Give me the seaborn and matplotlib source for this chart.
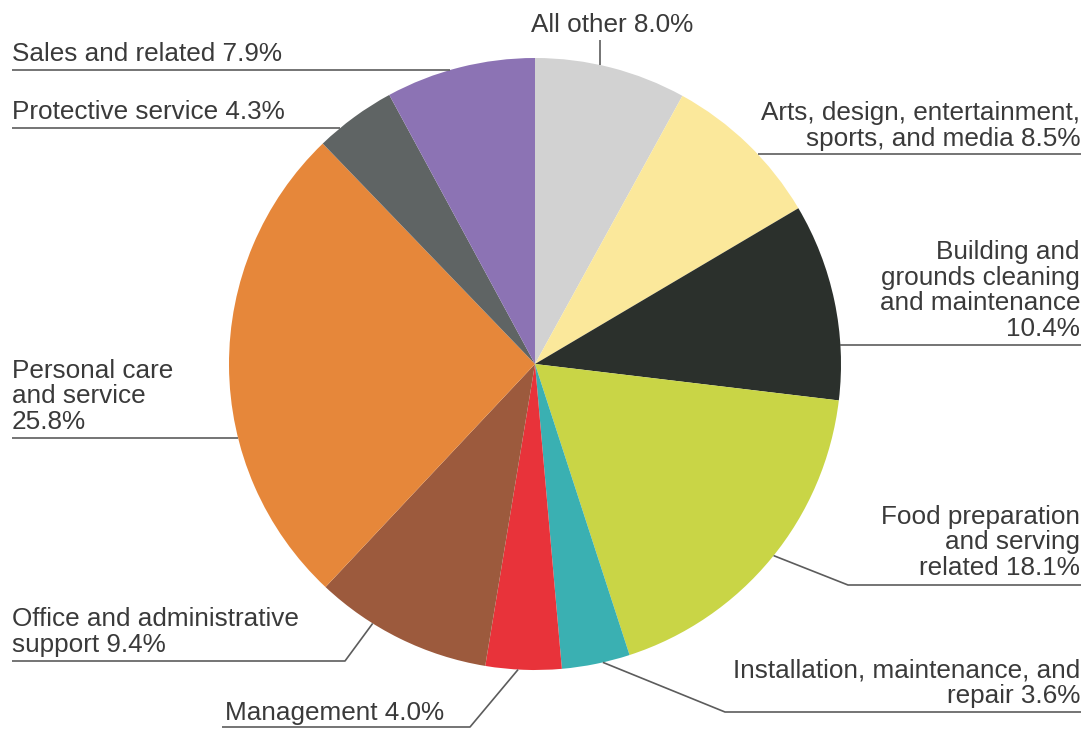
import numpy as np
import matplotlib.pyplot as plt
import seaborn as sns

# occupational shares, clockwise from 12 o'clock
categories = [
    "All other",
    "Arts, design, entertainment,\nsports, and media",
    "Building and\ngrounds cleaning\nand maintenance",
    "Food preparation\nand serving\nrelated",
    "Installation, maintenance, and\nrepair",
    "Management",
    "Office and administrative\nsupport",
    "Personal care\nand service",
    "Protective service",
    "Sales and related",
]
shares = [8.0, 8.5, 10.4, 18.1, 3.6, 4.0, 9.4, 25.8, 4.3, 7.9]
pct_sep = [" ", " ", "\n", " ", " ", " ", " ", "\n", " ", " "]
colors = ["#d2d2d2", "#fbe89b", "#2b302c", "#c9d546", "#3ab0b2",
          "#e8333a", "#9c5a3d", "#e6873a", "#5f6464", "#8c73b4"]

W, H = 1086, 729
CX, CY, R = 535, 364, 306


def Y(y):
    # pixel row (from top) -> data y
    return H - y


sns.set_theme(style="white")
plt.rcParams["font.family"] = ["Liberation Sans", "DejaVu Sans"]

fig = plt.figure(figsize=(W / 100, H / 100), dpi=100)
ax = fig.add_axes([0, 0, 1, 1])
wedges, _ = ax.pie(shares, colors=sns.color_palette(colors), startangle=90,
                   counterclock=False, center=(CX, Y(CY)), radius=R,
                   wedgeprops=dict(linewidth=0))
ax.set_xlim(0, W)
ax.set_ylim(0, H)
ax.set_aspect("equal")
ax.axis("off")

txt_kw = dict(fontsize=18.8, color="#3a3a3a", linespacing=1.08)
line_kw = dict(color="#5c5c5c", lw=1.2, solid_capstyle="butt")


def edge_x(y, side):
    dy = CY - y
    return CX + side * np.sqrt(R ** 2 - dy ** 2)


def wedge_point(w, f):
    a = np.deg2rad(w.theta2 - f * (w.theta2 - w.theta1))
    return CX + R * np.cos(a), CY - R * np.sin(a)


labels = [f"{c}{s}{v:.1f}%" for c, s, v in zip(categories, pct_sep, shares)]

# leader layout: (kind, text x, ha, baseline, line y / elbow, line end)
layout = {
    0: ("vert", 612, "center", 32, 600, 40),
    1: ("hr", 1080, "right", 146, 154, 1081),
    2: ("hr", 1080, "right", 336, 345, 1081),
    3: ("elbow", 1080, "right", 575, (848, 585, 0.49), 1081),
    4: ("elbow", 1080, "right", 703, (725, 712, 0.40), 1081),
    5: ("elbow", 225, "left", 720, (470, 727, 0.57), 222),
    6: ("elbow", 12, "left", 652, (345, 661, 0.67), 12),
    7: ("hl", 12, "left", 429, 438, 12),
    8: ("hl", 12, "left", 119, 128, 12),
    9: ("hl", 12, "left", 61, 70, 12),
}

for i, (kind, tx, ha, base, ly, lend) in layout.items():
    ax.text(tx, Y(base), labels[i], ha=ha, va="baseline", **txt_kw)
    if kind == "vert":
        y0 = CY - np.sqrt(R ** 2 - (ly - CX) ** 2)
        ax.plot([ly, ly], [Y(lend), Y(y0)], **line_kw)
    elif kind == "hr":
        ax.plot([edge_x(ly, 1), lend], [Y(ly), Y(ly)], **line_kw)
    elif kind == "hl":
        ax.plot([lend, edge_x(ly, -1)], [Y(ly), Y(ly)], **line_kw)
    else:
        ex, ey, f = ly
        px, py = wedge_point(wedges[i], f)
        ax.plot([px, ex, lend], [Y(py), Y(ey), Y(ey)], **line_kw)

fig.savefig("out.png", dpi=100, facecolor="white")
